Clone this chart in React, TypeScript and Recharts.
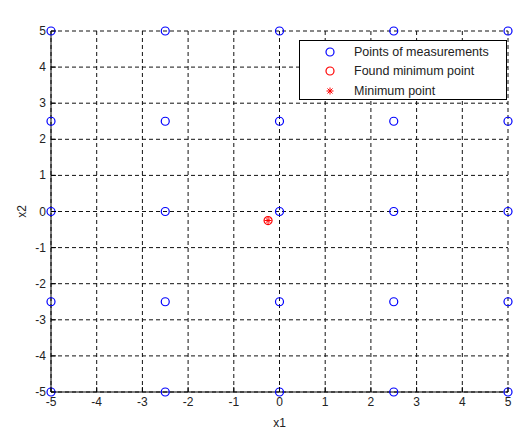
import { ScatterChart, Scatter, XAxis, YAxis, CartesianGrid, Legend } from "recharts";

// measurement grid levels (x1 and x2)
const levelsX1 = [-5, -2.5, 0, 2.5, 5];
const levelsX2 = [-5, -2.5, 0, 2.5, 5];
const axisTicks = [-5, -4, -3, -2, -1, 0, 1, 2, 3, 4, 5];

const measurements = levelsX1.flatMap((x1) => levelsX2.map((x2) => ({ x1, x2 })));
const foundMin = [{ x1: -0.25, x2: -0.25 }];
const trueMin = [{ x1: -0.25, x2: -0.25 }];

const FONT = '"Liberation Sans", Arial, sans-serif';
const TXT = "#222";

const Circle = (color: string) => (p: any) => (
  <circle cx={p.cx} cy={p.cy} r={4} fill="none" stroke={color} strokeWidth={1.2} />
);

const Star = (p: any) => {
  const r = 3.5;
  const d = r * 0.72;
  return (
    <g stroke="#ff0000" strokeWidth={1}>
      <line x1={p.cx - r} y1={p.cy} x2={p.cx + r} y2={p.cy} />
      <line x1={p.cx} y1={p.cy - r} x2={p.cx} y2={p.cy + r} />
      <line x1={p.cx - d} y1={p.cy - d} x2={p.cx + d} y2={p.cy + d} />
      <line x1={p.cx - d} y1={p.cy + d} x2={p.cx + d} y2={p.cy - d} />
    </g>
  );
};

const BottomTick = (p: any) => (
  <g>
    <line x1={p.x} y1={p.y} x2={p.x} y2={p.y - 5} stroke="#000" />
    <text x={p.x} y={p.y + 14} textAnchor="middle" fontSize={12} fill={TXT} fontFamily={FONT}>
      {p.payload.value}
    </text>
  </g>
);
const TopTick = (p: any) => <line x1={p.x} y1={p.y} x2={p.x} y2={p.y + 5} stroke="#000" />;
const LeftTick = (p: any) => (
  <g>
    <line x1={p.x} y1={p.y} x2={p.x + 5} y2={p.y} stroke="#000" />
    <text x={p.x - 5} y={p.y + 4} textAnchor="end" fontSize={12} fill={TXT} fontFamily={FONT}>
      {p.payload.value}
    </text>
  </g>
);
const RightTick = (p: any) => <line x1={p.x} y1={p.y} x2={p.x - 5} y2={p.y} stroke="#000" />;

const legendItems = [
  { name: "Points of measurements", kind: "circle", color: "#0000ff" },
  { name: "Found minimum point", kind: "circle", color: "#ff0000" },
  { name: "Minimum point", kind: "star", color: "#ff0000" },
];

const LegendBox = () => (
  <div
    style={{
      border: "1px solid #000",
      background: "#fff",
      width: 208,
      height: 60,
      boxSizing: "border-box",
      paddingTop: 1,
      fontFamily: FONT,
      fontSize: 12.5,
      color: TXT,
    }}
  >
    {legendItems.map((it) => (
      <div key={it.name} style={{ height: 19.5, display: "flex", alignItems: "center" }}>
        <svg width={54} height={12}>
          {it.kind === "circle" ? (
            <circle cx={30} cy={6} r={4} fill="none" stroke={it.color} strokeWidth={1.2} />
          ) : (
            <Star cx={30} cy={6} />
          )}
        </svg>
        <span>{it.name}</span>
      </div>
    ))}
  </div>
);

export default function App() {
  return (
    <div style={{ position: "absolute", left: 0, top: 0, background: "#fff" }}>
      <ScatterChart width={514} height={430} margin={{ top: 31, right: 6, bottom: 0, left: 0 }}>
        <CartesianGrid xAxisId="b" yAxisId="l" stroke="#111" strokeDasharray="4 3" />
        <XAxis
          xAxisId="b"
          dataKey="x1"
          type="number"
          domain={[-5, 5]}
          ticks={axisTicks}
          interval={0}
          height={38}
          tickSize={0}
          tickMargin={0}
          tickLine={false}
          axisLine={{ stroke: "#000" }}
          tick={BottomTick}
          label={{ value: "x1", position: "insideBottom", offset: 3, fontSize: 12, fill: TXT, fontFamily: FONT }}
        />
        <XAxis
          xAxisId="t"
          orientation="top"
          dataKey="x1"
          type="number"
          domain={[-5, 5]}
          ticks={axisTicks}
          interval={0}
          height={0}
          tickSize={0}
          tickMargin={0}
          tickLine={false}
          axisLine={{ stroke: "#000" }}
          tick={TopTick}
          label={{ value: "Model-based approach", position: "top", offset: 10, fontSize: 12.5, fill: TXT, fontFamily: FONT }}
        />
        <YAxis
          yAxisId="l"
          dataKey="x2"
          type="number"
          domain={[-5, 5]}
          ticks={axisTicks}
          interval={0}
          width={51}
          tickSize={0}
          tickMargin={0}
          tickLine={false}
          axisLine={{ stroke: "#000" }}
          tick={LeftTick}
          label={{ value: "x2", angle: -90, position: "center", dx: -4, fontSize: 12, fill: TXT, fontFamily: FONT }}
        />
        <YAxis
          yAxisId="r"
          orientation="right"
          dataKey="x2"
          type="number"
          domain={[-5, 5]}
          ticks={axisTicks}
          interval={0}
          width={0}
          tickSize={0}
          tickMargin={0}
          tickLine={false}
          axisLine={{ stroke: "#000" }}
          tick={RightTick}
        />
        <Scatter
          name="Points of measurements"
          data={measurements}
          xAxisId="b"
          yAxisId="l"
          shape={Circle("#0000ff")}
          isAnimationActive={false}
        />
        <Scatter
          name="Found minimum point"
          data={foundMin}
          xAxisId="b"
          yAxisId="l"
          shape={Circle("#ff0000")}
          isAnimationActive={false}
        />
        <Scatter
          name="Minimum point"
          data={trueMin}
          xAxisId="b"
          yAxisId="l"
          shape={Star}
          isAnimationActive={false}
        />
        <Legend
          layout="vertical"
          align="center"
          verticalAlign="middle"
          content={<LegendBox />}
          wrapperStyle={{ position: "absolute", left: 299, top: 40, width: 210, height: 62 }}
        />
      </ScatterChart>
    </div>
  );
}
